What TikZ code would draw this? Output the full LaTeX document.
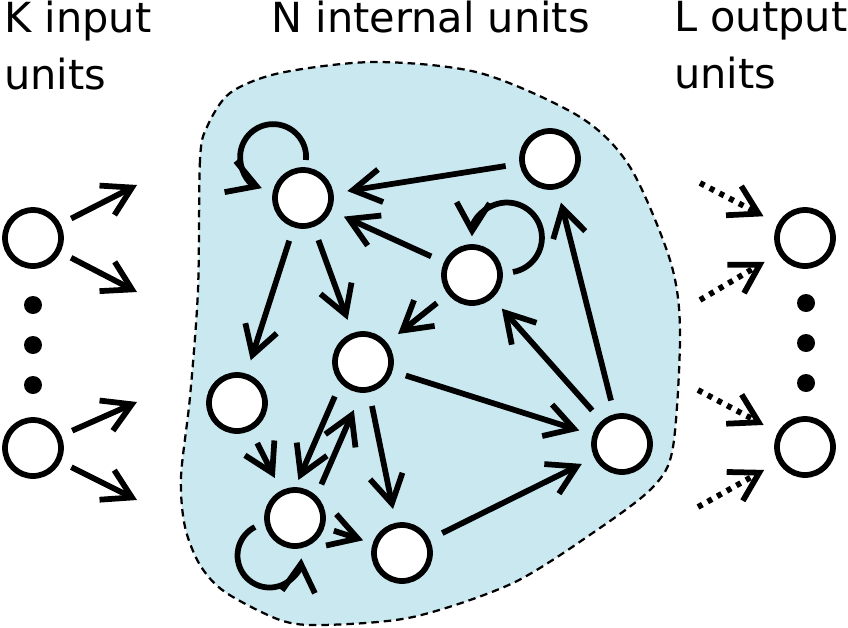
\documentclass[tikz,border=0pt]{standalone}
\usepackage{fontspec}
\setmainfont{DejaVu Sans}
\usepackage{tikz}
\usetikzlibrary{arrows.meta}
\definecolor{pool}{RGB}{202,232,240}

\begin{document}
\begin{tikzpicture}[x=0.02cm,y=0.02cm,
    unit/.style={circle,draw,line width=0.115cm,fill=white,minimum size=1.12cm,inner sep=0pt},
    dotmark/.style={circle,fill,inner sep=0pt,minimum size=0.36cm},
    link/.style={line width=0.115cm,-{Straight Barb[length=0.56cm,width=0.66cm]},shorten <=0.28cm,shorten >=0.28cm},
    readout/.style={link,dash pattern=on 0.1cm off 0.12cm,shorten <=0pt,shorten >=0.32cm},
    title/.style={align=left,anchor=north west,inner sep=0pt,font=\fontsize{23.6}{32.4}\selectfont}]
\useasboundingbox (0,0) rectangle (848,627);
\fill[pool] plot[smooth cycle] coordinates {(207,500) (200,467) (198,337) (190,230) (181,150) (185,100) (200,62) (225,35) (280,7) (323,2) (413,10) (513,44) (597,97) (653,140) (673,180) (680,297) (670,367) (630,460) (580,510) (480,554) (375,565) (280,554) (230,534)};
\draw[line width=0.045cm,dash pattern=on 0.15cm off 0.1cm] plot[smooth cycle] coordinates {(207,500) (200,467) (198,337) (190,230) (181,150) (185,100) (200,62) (225,35) (280,7) (323,2) (413,10) (513,44) (597,97) (653,140) (673,180) (680,297) (670,367) (630,460) (580,510) (480,554) (375,565) (280,554) (230,534)};
\node[title] (kin) at (4,626) {K input\\units};
\node[title] (nint) at (271,626) {N internal units};
\node[title] (lout) at (674,626) {L output\\units};
\node[unit] (i1) at (33,389) {};
\node[unit] (i2) at (33,179) {};
\node[dotmark] (id1) at (33,322) {};
\node[dotmark] (id2) at (33,282) {};
\node[dotmark] (id3) at (33,242) {};
\node[unit] (o1) at (805,389) {};
\node[unit] (o2) at (805,180) {};
\node[dotmark] (od1) at (806,324) {};
\node[dotmark] (od2) at (806,284) {};
\node[dotmark] (od3) at (806,244) {};
\node[unit] (r1) at (303,429) {};
\node[unit] (r2) at (550,468) {};
\node[unit] (r3) at (472,352) {};
\node[unit] (r4) at (363,265) {};
\node[unit] (r5) at (237,224) {};
\node[unit] (r6) at (295,109) {};
\node[unit] (r7) at (402,74) {};
\node[unit] (r8) at (622,183) {};
\coordinate (ia1) at (137,442);
\coordinate (ia2) at (137,335);
\coordinate (ia3) at (137,225);
\coordinate (ia4) at (137,127);
\coordinate (oa1) at (700,444);
\coordinate (oa2) at (700,327);
\coordinate (oa3) at (698,237);
\coordinate (oa4) at (698,120);
\draw[link,shorten <=0.24cm,shorten >=0pt] (i1) -- (ia1);
\draw[link,shorten <=0.24cm,shorten >=0pt] (i1) -- (ia2);
\draw[link,shorten <=0.24cm,shorten >=0pt] (i2) -- (ia3);
\draw[link,shorten <=0.24cm,shorten >=0pt] (i2) -- (ia4);
\draw[readout] (oa1) -- (o1);
\draw[readout] (oa2) -- (o1);
\draw[readout] (oa3) -- (o2);
\draw[readout] (oa4) -- (o2);
\draw[link] (r2) -- (r1);
\draw[link] (r3) -- (r1);
\draw[link] (r1) -- (r5);
\draw[link] (r1) -- (r4);
\draw[link] (r3) -- (r4);
\draw[link] (r8) -- (r3);
\draw[link] (r8) -- (r2);
\draw[link] (r4) -- (r8);
\draw[link] (r7) -- (r8);
\draw[link] (r4) -- (r7);
\draw[link] (r5) -- (r6);
\draw[link,shorten <=0.2cm,shorten >=0.2cm] (r6) -- (r7);
\draw[link,shorten <=0.86cm,shorten >=0.72cm] ([shift={(-11,5)}]r4.center) -- ([shift={(-11,5)}]r6.center);
\draw[link,shorten <=0.82cm,shorten >=0.96cm] ([shift={(10,-4)}]r6.center) -- ([shift={(10,-4)}]r4.center);
\draw[link,shorten <=0pt,shorten >=0pt] ([shift={(3,38)}]r1.center) arc[start angle=-5,end angle=250,radius=33];
\draw[link,shorten <=0pt,shorten >=0pt] ([shift={(41,3)}]r3.center) arc[start angle=-80,end angle=178,radius=35];
\draw[link,shorten <=0pt,shorten >=0pt] ([shift={(-40,-9)}]r6.center) arc[start angle=117,end angle=355,radius=32];
\end{tikzpicture}
\end{document}
